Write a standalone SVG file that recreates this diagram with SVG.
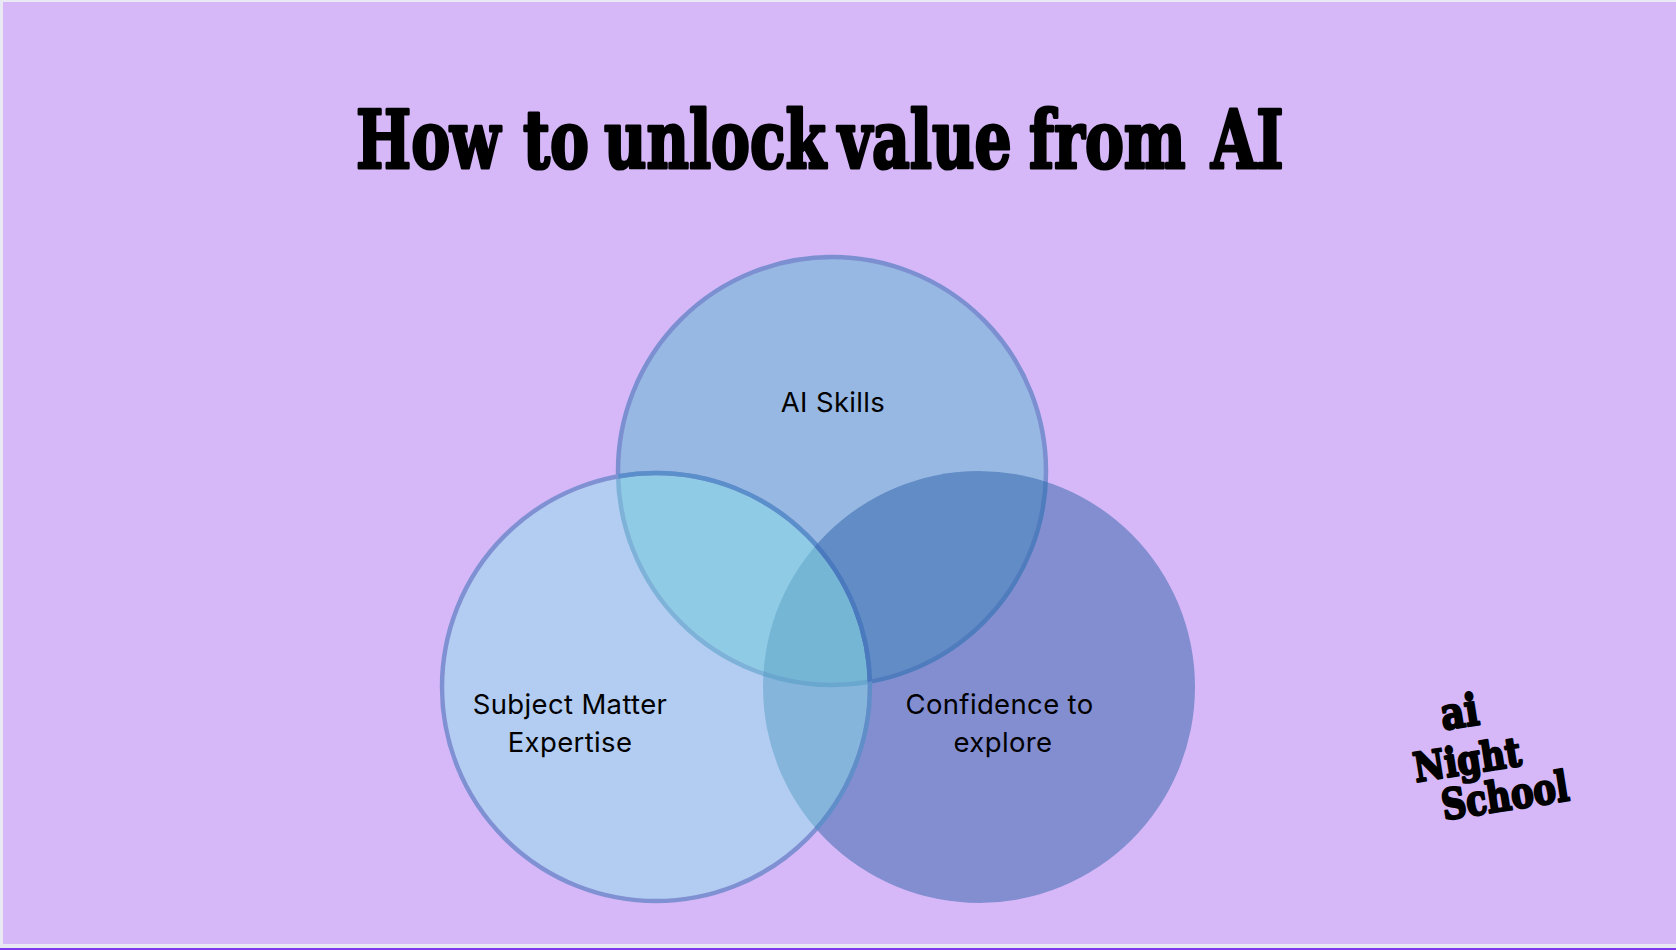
<svg xmlns="http://www.w3.org/2000/svg" width="1676" height="950" viewBox="0 0 1676 950">
<style>
.t{font-family:"DejaVu Serif","Liberation Serif",serif;font-weight:700;fill:#000;stroke:#000;stroke-width:3.2;stroke-linejoin:round}
.g{stroke-width:2.4}
.l{font-family:Inter,"Liberation Sans",sans-serif;font-size:27.5px;letter-spacing:.35px;fill:#000;text-anchor:middle}
.o{fill:none;stroke-width:4.5}
</style>
<defs>
<circle id="ca" cx="832" cy="471" r="214"/>
<circle id="cl" cx="656" cy="687" r="214"/>
<circle id="cr" cx="979" cy="687" r="216"/>
<clipPath id="inA"><use href="#ca"/></clipPath>
<clipPath id="inL"><use href="#cl"/></clipPath>
<clipPath id="inR"><use href="#cr"/></clipPath>
</defs>
<rect width="1676" height="950" fill="#e9e9f3"/>
<rect x="3" y="2" width="1673" height="942" fill="#d6b8f9"/>
<rect y="948" width="1676" height="2" fill="#7c3aed"/>
<g id="title"><text class="t" y="168" font-size="80" transform="scale(.73 1)"><tspan x="487.7">How</tspan> <tspan x="716.4">to</tspan> <tspan x="827.4">unlock</tspan> <tspan x="1148">value</tspan> <tspan x="1409.6">from</tspan> <tspan x="1658.9">AI</tspan></text></g>
<g id="node-confidence">
<use href="#cr" fill="#838ed1"/>
<text class="l"><tspan x="999.5" y="714">Confidence to</tspan><tspan x="1003" y="752">explore</tspan></text>
</g>
<g id="node-skills">
<use href="#ca" fill="#97b8e3"/>
<use href="#ca" fill="#628cc5" clip-path="url(#inR)"/>
<use href="#ca" class="o" stroke="#7b8fd1"/>
<use href="#ca" class="o" stroke="#4f7cbd" clip-path="url(#inR)"/>
<text class="l" x="833" y="412">AI Skills</text>
</g>
<g id="node-expertise">
<use href="#cl" fill="#b2cdf1"/>
<g clip-path="url(#inR)"><use href="#cl" fill="#86b5dc"/></g>
<g clip-path="url(#inA)"><use href="#cl" fill="#90cbe5"/>
<g clip-path="url(#inR)"><use href="#cl" fill="#76b6d5"/></g></g>
<g clip-path="url(#inL)"><use href="#ca" class="o" stroke="#7eb2d8"/>
<g clip-path="url(#inR)"><use href="#ca" class="o" stroke="#6aa7cf"/></g></g>
<use href="#cl" class="o" stroke="#8091d3"/>
<g clip-path="url(#inA)"><use href="#cl" class="o" stroke="#5a8fcb"/></g>
<g clip-path="url(#inR)"><use href="#cl" class="o" stroke="#5f8ec8"/>
<g clip-path="url(#inA)"><use href="#cl" class="o" stroke="#4a79bd"/></g></g>
<text class="l"><tspan x="570" y="714">Subject Matter</tspan><tspan x="570" y="752">Expertise</tspan></text>
</g>
<g id="logo">
<text class="t g" font-size="44" transform="translate(1443 730) rotate(-9)" textLength="38" lengthAdjust="spacingAndGlyphs">ai</text>
<text class="t g" font-size="40" transform="translate(1416 782) rotate(-9)" textLength="108" lengthAdjust="spacingAndGlyphs">Night</text>
<text class="t g" font-size="42" transform="translate(1444 820) rotate(-9)" textLength="128" lengthAdjust="spacingAndGlyphs">School</text>
</g>
</svg>
